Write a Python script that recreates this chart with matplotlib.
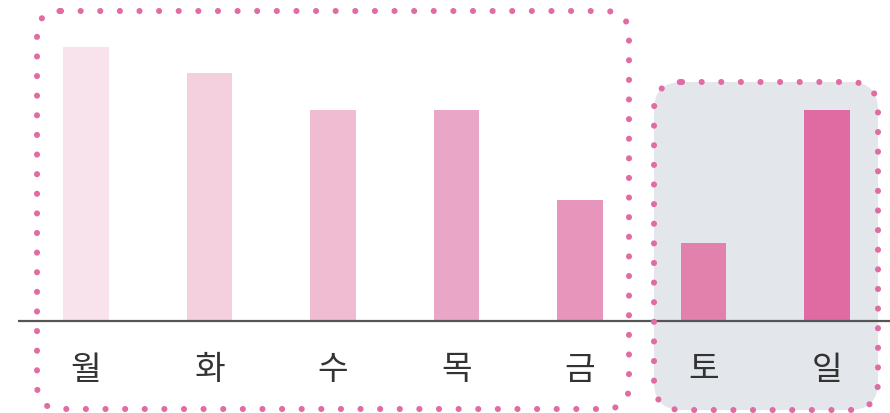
import matplotlib
matplotlib.use("Agg")
import matplotlib.pyplot as plt
from matplotlib.patches import FancyBboxPatch

plt.rcParams['font.family'] = ['Noto Sans CJK KR', 'DejaVu Sans']

# data
days = ['월', '화', '수', '목', '금', '토', '일']
values = [95, 86, 73, 73, 42, 27, 73]
colors = ['#f8e2ec', '#f4d0df', '#efbcd2', '#e9a6c6', '#e795bb', '#e381ad', '#e06ba3']

W, H = 890, 413
fig = plt.figure(figsize=(W / 100, H / 100), dpi=100)

# rounded boxes drawn in pixel coords
bg = fig.add_axes([0, 0, 1, 1])
bg.set_xlim(0, W)
bg.set_ylim(H, 0)
bg.axis('off')

pink = '#e06ca3'
gray_box = FancyBboxPatch((654, 82), 224, 328, boxstyle='round,pad=0,rounding_size=28',
                          facecolor='#e3e6eb', edgecolor='none', zorder=0)
bg.add_patch(gray_box)

ax = fig.add_axes([0, 0, 1, 1], zorder=2)
ax.patch.set_alpha(0)
x = list(range(len(days)))
ax.bar(x, values, width=0.37, color=colors, zorder=2)
ax.set_xlim(-86 / 123.5, (W - 86) / 123.5)
ax.set_ylim(-(H - 321) / 2.884, 321 / 2.884)
ax.axis('off')
ax.hlines(0, -68 / 123.5, (W - 86) / 123.5, color='#555555', lw=1.6, zorder=3)
for i, d in enumerate(days):
    ax.text(i, -49 / 2.884, d, ha='center', va='center', fontsize=24, color='#333333')

ov = fig.add_axes([0, 0, 1, 1], zorder=3)
ov.patch.set_alpha(0)
ov.set_xlim(0, W)
ov.set_ylim(H, 0)
ov.axis('off')
for (x0, y0, w, h, r) in [(37, 11, 592, 398, 24), (654, 82, 224, 328, 28)]:
    box = FancyBboxPatch((x0, y0), w, h, boxstyle='round,pad=0,rounding_size=%d' % r,
                         facecolor='none', edgecolor=pink, lw=4.4,
                         linestyle=(0, (0.01, 3.2)), capstyle='round')
    ov.add_patch(box)

fig.savefig('out.png', dpi=100)
